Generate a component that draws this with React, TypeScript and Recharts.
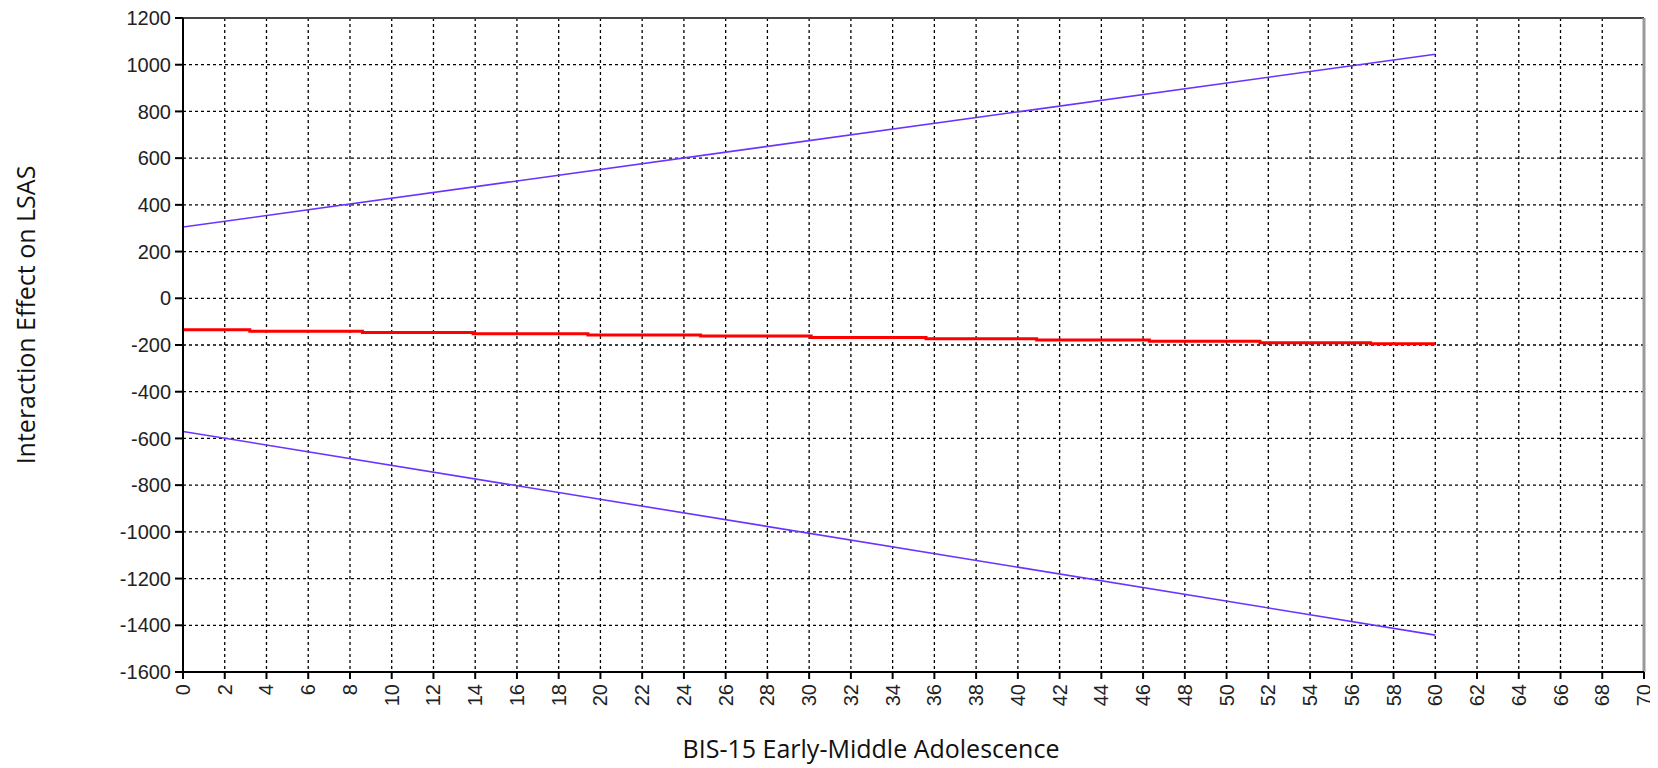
import { LineChart, Line, XAxis, YAxis, CartesianGrid, ReferenceLine, Label } from 'recharts'

// x positions are BIS-15 scores, y values the interaction effect
const upperX = [0, 60]
const upperY = [305, 1045]
const lowerX = [0, 60]
const lowerY = [-570, -1442]
const effectX = [0, 3.2, 8.6, 13.9, 19.4, 24.8, 30.1, 35.6, 40.9, 46.3, 51.6, 56.9, 60]
const effectY = [-135, -141, -146, -152, -157, -162, -168, -173, -179, -184, -190, -195, -195]

const xTicks = [0, 2, 4, 6, 8, 10, 12, 14, 16, 18, 20, 22, 24, 26, 28, 30, 32, 34, 36, 38, 40, 42, 44, 46, 48, 50, 52, 54, 56, 58, 60, 62, 64, 66, 68, 70]
const yTicks = [-1600, -1400, -1200, -1000, -800, -600, -400, -200, 0, 200, 400, 600, 800, 1000, 1200]

const toPoints = (xs: number[], ys: number[]) => xs.map((x, i) => ({ x, y: ys[i] }))

const upper = toPoints(upperX, upperY)
const lower = toPoints(lowerX, lowerY)
const effect = toPoints(effectX, effectY)

const TICK_FONT = '"Liberation Sans", Arial, sans-serif'
const TITLE_FONT = '"Open Sans", sans-serif'
const BAND = '#6a33ff'

const XTick = ({ x, y, payload }: { x?: number; y?: number; payload?: { value: number } }) => {
  const ty = (y ?? 0) + 3
  return (
    <text
      x={x}
      y={ty}
      transform={`rotate(-90, ${x}, ${ty})`}
      textAnchor="end"
      dominantBaseline="central"
      fontSize={20}
      fontFamily={TICK_FONT}
      fill="#222"
    >
      {payload?.value}
    </text>
  )
}

export default function App() {
  return (
    <div style={{ width: 1650, height: 760 }}>
      <LineChart width={1650} height={760} margin={{ top: 10, right: 14, left: 0, bottom: 0 }}>
        <CartesianGrid stroke="#000" strokeDasharray="3 3" strokeWidth={1.3} />
        <XAxis
          type="number"
          dataKey="x"
          domain={[0, 70]}
          ticks={xTicks}
          interval={0}
          height={96}
          tickSize={7}
          tick={<XTick />}
          stroke="#000"
          strokeWidth={2}
          allowDataOverflow
        >
          <Label
            content={() => (
              <text x={863} y={740} textAnchor="middle" dominantBaseline="central"
                fontSize={25} fontFamily={TITLE_FONT} fill="#111">
                BIS-15 Early-Middle Adolescence
              </text>
            )}
          />
        </XAxis>
        <YAxis
          type="number"
          domain={[-1600, 1200]}
          ticks={yTicks}
          interval={0}
          width={175}
          tickSize={8}
          tickMargin={4}
          tick={{ fontSize: 20, fontFamily: TICK_FONT, fill: '#222' }}
          stroke="#000"
          strokeWidth={2}
          allowDataOverflow
        >
          <Label
            content={() => (
              <text x={17} y={307} transform="rotate(-90, 17, 307)" textAnchor="middle"
                dominantBaseline="central" fontSize={25} fontFamily={TITLE_FONT} fill="#111">
                Interaction Effect on LSAS
              </text>
            )}
          />
        </YAxis>
        <ReferenceLine y={1200} stroke="#444" strokeWidth={2} />
        <ReferenceLine x={70} stroke="#9a9a9a" strokeWidth={3} />
        <Line data={upper} dataKey="y" type="linear" stroke={BAND} strokeWidth={1.6} dot={false} isAnimationActive={false} />
        <Line data={lower} dataKey="y" type="linear" stroke={BAND} strokeWidth={1.6} dot={false} isAnimationActive={false} />
        <Line data={effect} dataKey="y" type="stepAfter" stroke="#ff0000" strokeWidth={3} dot={false} isAnimationActive={false} />
      </LineChart>
    </div>
  )
}
